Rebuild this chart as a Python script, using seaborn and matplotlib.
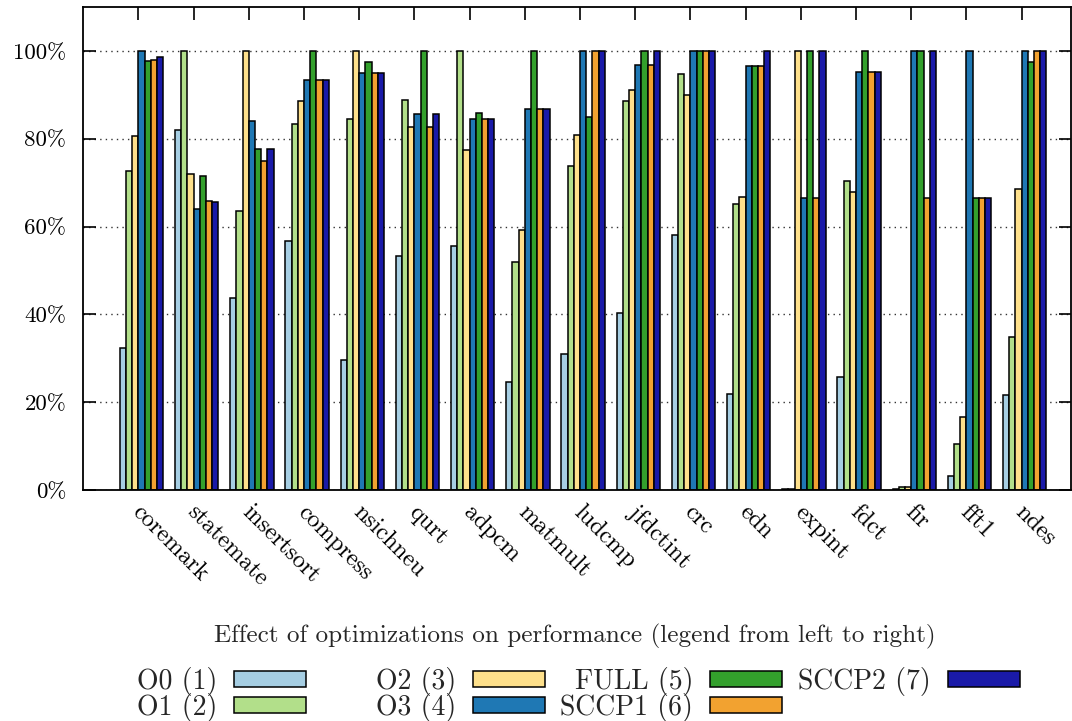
import numpy as np
import pandas as pd
import matplotlib
matplotlib.use("Agg")
import matplotlib.pyplot as plt
import seaborn as sns
from matplotlib.patches import Patch

benchmarks = ["coremark", "statemate", "insertsort", "compress", "nsichneu", "qurt",
              "adpcm", "matmult", "ludcmp", "jfdctint", "crc", "edn", "expint",
              "fdct", "fir", "fft1", "ndes"]
series = ["O0 (1)", "O1 (2)", "O2 (3)", "O3 (4)", "FULL (5)", "SCCP1 (6)", "SCCP2 (7)"]
o0 = [32.3, 82.0, 43.7, 56.7, 29.7, 53.3, 55.6, 24.6, 31.0, 40.3, 58.0, 21.8, 0.3, 25.7, 0.3, 3.1, 21.7]
o1 = [72.7, 100, 63.6, 83.3, 84.5, 88.9, 100, 51.9, 73.9, 88.5, 94.8, 65.2, 0.3, 70.4, 0.6, 10.5, 34.9]
o2 = [80.7, 71.9, 100, 88.5, 100, 82.7, 77.4, 59.1, 80.9, 91.2, 90.0, 66.7, 100, 67.8, 0.6, 16.7, 68.5]
o3 = [100, 64.0, 84.0, 93.4, 95.0, 85.7, 84.6, 86.7, 100, 96.8, 100, 96.5, 66.6, 95.1, 100, 100, 100]
full = [97.6, 71.6, 77.7, 100, 97.4, 100, 85.9, 100, 85.0, 100, 100, 96.5, 100, 100, 100, 66.6, 97.4]
sccp1 = [98.0, 65.8, 75.0, 93.4, 95.0, 82.7, 84.6, 86.7, 100, 96.8, 100, 96.5, 66.6, 95.1, 66.6, 66.6, 100]
sccp2 = [98.5, 65.6, 77.7, 93.4, 95.0, 85.7, 84.6, 86.7, 100, 100, 100, 100, 100, 95.1, 100, 66.6, 100]
colors = ["#a6cee3", "#b2df8a", "#fee08b", "#1f78b4", "#33a02c", "#f2a230", "#1a1aa8"]
yticks = [0, 20, 40, 60, 80, 100]
title = "Effect of optimizations on performance (legend from left to right)"

wide = pd.DataFrame(dict(zip(series, [o0, o1, o2, o3, full, sccp1, sccp2])))
wide["bench"] = benchmarks
df = wide.melt(id_vars="bench", var_name="opt", value_name="value")

sns.set_style("white")
plt.rcParams["font.family"] = ["cmr10", "DejaVu Serif"]
plt.rcParams["axes.formatter.use_mathtext"] = True
FS_Y = 16.5
FS_X = 17.5
FS_T = 18.1
FS_L = 20

fig = plt.figure(figsize=(10.72, 7.21), dpi=100)
W, H = 1072, 721
ax = fig.add_axes([83 / W, 1 - 490 / H, (1071 - 83) / W, (490 - 7) / H])

sns.barplot(data=df, x="bench", y="value", hue="opt", order=benchmarks, hue_order=series,
            palette=colors, width=0.786, edgecolor="black", linewidth=1.1,
            errorbar=None, saturation=1, legend=False, ax=ax)

ax.set_ylim(0, 110)
ax.set_xlim(-1.06, 16.84)
ax.set_yticks(yticks)
ax.set_yticklabels([f"{v}%" for v in yticks], fontsize=FS_Y)

pos = np.arange(len(benchmarks))
# top tick marks (no labels)
ax.set_xticks(pos - 0.055)
ax.set_xticklabels([])
# bottom labels on minor ticks (no marks)
ax.set_xticks(pos + 0.035, minor=True)
ax.set_xticklabels(benchmarks, minor=True, rotation=-45, ha="left", va="top",
                   rotation_mode="anchor", fontsize=FS_X)
ax.set_xlabel("")
ax.set_ylabel("")
ax.yaxis.grid(True, linestyle=(0, (1, 3)), color="#333333", linewidth=1.0)
ax.xaxis.grid(False, which="both")
ax.set_axisbelow(True)
for s in ax.spines.values():
    s.set_linewidth(1.3)
    s.set_color("black")
    s.set_visible(True)
ax.tick_params(axis="y", direction="in", length=9, width=1.2, left=True, right=True,
               pad=12, colors="black")
ax.tick_params(axis="x", which="major", direction="in", length=9, width=1.2,
               top=True, bottom=False, labelbottom=False, colors="black")
ax.tick_params(axis="x", which="minor", direction="in", length=0, top=False,
               bottom=True, labelbottom=True, pad=8, colors="black")

fig.text(575 / W, 1 - 636 / H, title, ha="center", va="center", fontsize=FS_T)

handles = [Patch(facecolor=c, edgecolor="black", linewidth=1.1) for c in colors]
cols = [[0, 1], [2, 3], [4, 5], [6]]
col_right = [306, 545, 782, 1020]
for idx, xr in zip(cols, col_right):
    fig.legend([handles[i] for i in idx], [series[i] for i in idx],
               loc="upper right", bbox_to_anchor=(xr / W, 1 - 667 / H),
               markerfirst=False, frameon=False, fontsize=FS_L,
               handlelength=2.6, handleheight=0.5, handletextpad=0.6,
               labelspacing=-0.12, borderpad=0, borderaxespad=0)

fig.savefig("out.png", dpi=100)
